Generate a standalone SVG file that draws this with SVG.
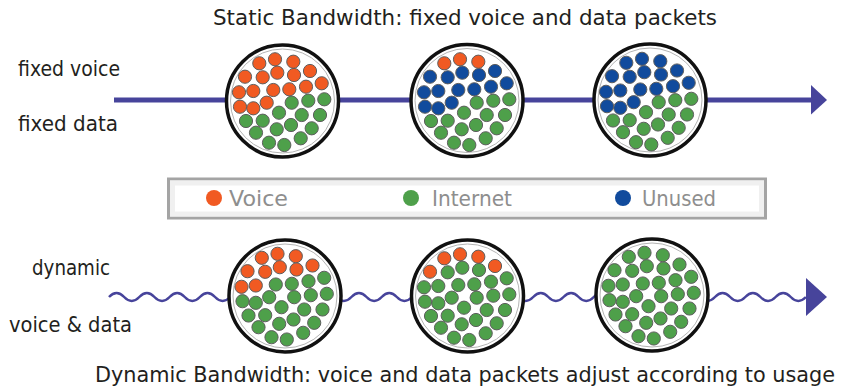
<svg xmlns="http://www.w3.org/2000/svg" xmlns:xlink="http://www.w3.org/1999/xlink" width="845" height="389" viewBox="0 0 845 389">
<style>
.t{font-family:"DejaVu Sans","Liberation Sans",sans-serif;fill:#231f20}
.lt{font-family:"DejaVu Sans","Liberation Sans",sans-serif;fill:#8e8e8e;font-size:21px}
.o{fill:#f15a22}.g{fill:#4ea04a}.b{fill:#114b9d}
.ring{fill:#fff;stroke:#111;stroke-width:3.5}
.inner{fill:none;stroke:#b4b4b4;stroke-width:1}
.ln{stroke:#47449b;fill:none}
</style>
<defs>
<circle id="dot" r="6.6" stroke="#5e5e5e" stroke-width="1"/>
</defs>
<rect width="845" height="389" fill="#fff"/>
<text class="t" x="213" y="25" font-size="20.5" textLength="504" lengthAdjust="spacingAndGlyphs">Static Bandwidth: fixed voice and data packets</text>
<text class="t" x="95" y="382" font-size="20.5" textLength="740" lengthAdjust="spacingAndGlyphs">Dynamic Bandwidth: voice and data packets adjust according to usage</text>
<text class="t" x="18" y="76" font-size="21" textLength="102" lengthAdjust="spacingAndGlyphs">fixed voice</text>
<text class="t" x="18" y="131" font-size="21" textLength="100" lengthAdjust="spacingAndGlyphs">fixed data</text>
<text class="t" x="32" y="275" font-size="21" textLength="78" lengthAdjust="spacingAndGlyphs">dynamic</text>
<text class="t" x="9" y="332" font-size="21" textLength="123" lengthAdjust="spacingAndGlyphs">voice &amp; data</text>
<g id="connectors">
<line class="ln" x1="114" y1="100" x2="812" y2="100" stroke-width="5"/>
<polygon points="811,85 811,114.5 827,100" fill="#47449b"/>
<path class="ln" stroke-width="2.5" d="M109,297 q7.575,-8 15.15,0 t15.15,0 t15.15,0 t15.15,0 t15.15,0 t15.15,0 t15.15,0 t15.15,0 t15.15,0 t15.15,0 t15.15,0 t15.15,0 t15.15,0 t15.15,0 t15.15,0 t15.15,0 t15.15,0 t15.15,0 t15.15,0 t15.15,0 t15.15,0 t15.15,0 t15.15,0 t15.15,0 t15.15,0 t15.15,0 t15.15,0 t15.15,0 t15.15,0 t15.15,0 t15.15,0 t15.15,0 t15.15,0 t15.15,0 t15.15,0 t15.15,0 t15.15,0 t15.15,0 t15.15,0 t15.15,0 t15.15,0 t15.15,0 t15.15,0 t15.15,0 t15.15,0 t15.15,0"/>
<polygon points="806,278 806,316 827,297" fill="#47449b"/>
</g>
<g id="legend">
<rect x="168.5" y="179" width="597" height="39" fill="#fff" stroke="#a4a4a4" stroke-width="3"/>
<rect x="172.5" y="183" width="589" height="31" fill="none" stroke="#f0f0f0" stroke-width="5"/>
<ellipse cx="214" cy="198" rx="8" ry="8" class="o"/>
<text class="lt" x="229" y="206" textLength="59" lengthAdjust="spacingAndGlyphs">Voice</text>
<ellipse cx="411" cy="198" rx="8" ry="8" class="g"/>
<text class="lt" x="432" y="206" textLength="80" lengthAdjust="spacingAndGlyphs">Internet</text>
<ellipse cx="623" cy="198" rx="8" ry="8" class="b"/>
<text class="lt" x="642" y="206" textLength="74" lengthAdjust="spacingAndGlyphs">Unused</text>
</g>
<g id="cable1">
<circle class="ring" cx="282.5" cy="101" r="56"/><circle class="inner" cx="282.5" cy="101" r="52"/>
<g transform="translate(282,100)">
<use href="#dot" class="o" x="-22.7" y="-36.7"/><use href="#dot" class="o" x="-7" y="-40.7"/><use href="#dot" class="o" x="11.3" y="-38.3"/>
<use href="#dot" class="o" x="-37" y="-23.3"/><use href="#dot" class="o" x="-19.3" y="-22.7"/><use href="#dot" class="o" x="-4.7" y="-27.3"/><use href="#dot" class="o" x="12" y="-25"/><use href="#dot" class="o" x="28" y="-29"/>
<use href="#dot" class="o" x="-43" y="-7.7"/><use href="#dot" class="o" x="-28.7" y="-9"/><use href="#dot" class="o" x="-8.7" y="-10"/><use href="#dot" class="o" x="7.3" y="-10.7"/><use href="#dot" class="o" x="24" y="-13.3"/><use href="#dot" class="o" x="39.7" y="-16.7"/>
<use href="#dot" class="o" x="-42" y="6.7"/><use href="#dot" class="o" x="-28.7" y="8.3"/><use href="#dot" class="o" x="-15.3" y="2.7"/><use href="#dot" class="g" x="9.7" y="2.7"/><use href="#dot" class="g" x="26.3" y="0.7"/><use href="#dot" class="g" x="42.3" y="-0.7"/>
<use href="#dot" class="g" x="-36" y="21"/><use href="#dot" class="g" x="-19.3" y="20.7"/><use href="#dot" class="g" x="-3" y="12.7"/><use href="#dot" class="g" x="19.7" y="15"/><use href="#dot" class="g" x="38" y="15"/>
<use href="#dot" class="g" x="-26" y="32.7"/><use href="#dot" class="g" x="-5.3" y="29.3"/><use href="#dot" class="g" x="9" y="25"/><use href="#dot" class="g" x="29.7" y="28.3"/>
<use href="#dot" class="g" x="-13" y="42.7"/><use href="#dot" class="g" x="2.3" y="45"/><use href="#dot" class="g" x="18.7" y="38.3"/>
</g>
</g>
<g id="cable2">
<circle class="ring" cx="467" cy="100.5" r="56"/><circle class="inner" cx="467" cy="100.5" r="52"/>
<g transform="translate(467,100)">
<use href="#dot" class="o" x="-22.7" y="-36.7"/><use href="#dot" class="o" x="-7" y="-40.7"/><use href="#dot" class="o" x="11.3" y="-38.3"/>
<use href="#dot" class="b" x="-37" y="-23.3"/><use href="#dot" class="b" x="-19.3" y="-22.7"/><use href="#dot" class="b" x="-4.7" y="-27.3"/><use href="#dot" class="b" x="12" y="-25"/><use href="#dot" class="b" x="28" y="-29"/>
<use href="#dot" class="b" x="-43" y="-7.7"/><use href="#dot" class="b" x="-28.7" y="-9"/><use href="#dot" class="b" x="-8.7" y="-10"/><use href="#dot" class="b" x="7.3" y="-10.7"/><use href="#dot" class="b" x="24" y="-13.3"/><use href="#dot" class="b" x="39.7" y="-16.7"/>
<use href="#dot" class="b" x="-42" y="6.7"/><use href="#dot" class="b" x="-28.7" y="8.3"/><use href="#dot" class="b" x="-15.3" y="2.7"/><use href="#dot" class="g" x="9.7" y="2.7"/><use href="#dot" class="g" x="26.3" y="0.7"/><use href="#dot" class="g" x="42.3" y="-0.7"/>
<use href="#dot" class="g" x="-36" y="21"/><use href="#dot" class="g" x="-19.3" y="20.7"/><use href="#dot" class="g" x="-3" y="12.7"/><use href="#dot" class="g" x="19.7" y="15"/><use href="#dot" class="g" x="38" y="15"/>
<use href="#dot" class="g" x="-26" y="32.7"/><use href="#dot" class="g" x="-5.3" y="29.3"/><use href="#dot" class="g" x="9" y="25"/><use href="#dot" class="g" x="29.7" y="28.3"/>
<use href="#dot" class="g" x="-13" y="42.7"/><use href="#dot" class="g" x="2.3" y="45"/><use href="#dot" class="g" x="18.7" y="38.3"/>
</g>
</g>
<g id="cable3">
<circle class="ring" cx="650" cy="100" r="56"/><circle class="inner" cx="650" cy="100" r="52"/>
<g transform="translate(649,99.5)">
<use href="#dot" class="b" x="-22.7" y="-36.7"/><use href="#dot" class="b" x="-7" y="-40.7"/><use href="#dot" class="b" x="11.3" y="-38.3"/>
<use href="#dot" class="b" x="-37" y="-23.3"/><use href="#dot" class="b" x="-19.3" y="-22.7"/><use href="#dot" class="b" x="-4.7" y="-27.3"/><use href="#dot" class="b" x="12" y="-25"/><use href="#dot" class="b" x="28" y="-29"/>
<use href="#dot" class="b" x="-43" y="-7.7"/><use href="#dot" class="b" x="-28.7" y="-9"/><use href="#dot" class="b" x="-8.7" y="-10"/><use href="#dot" class="b" x="7.3" y="-10.7"/><use href="#dot" class="b" x="24" y="-13.3"/><use href="#dot" class="b" x="39.7" y="-16.7"/>
<use href="#dot" class="b" x="-42" y="6.7"/><use href="#dot" class="b" x="-28.7" y="8.3"/><use href="#dot" class="b" x="-15.3" y="2.7"/><use href="#dot" class="g" x="9.7" y="2.7"/><use href="#dot" class="g" x="26.3" y="0.7"/><use href="#dot" class="g" x="42.3" y="-0.7"/>
<use href="#dot" class="g" x="-36" y="21"/><use href="#dot" class="g" x="-19.3" y="20.7"/><use href="#dot" class="g" x="-3" y="12.7"/><use href="#dot" class="g" x="19.7" y="15"/><use href="#dot" class="g" x="38" y="15"/>
<use href="#dot" class="g" x="-26" y="32.7"/><use href="#dot" class="g" x="-5.3" y="29.3"/><use href="#dot" class="g" x="9" y="25"/><use href="#dot" class="g" x="29.7" y="28.3"/>
<use href="#dot" class="g" x="-13" y="42.7"/><use href="#dot" class="g" x="2.3" y="45"/><use href="#dot" class="g" x="18.7" y="38.3"/>
</g>
</g>
<g id="cable4">
<circle class="ring" cx="285" cy="296" r="56"/><circle class="inner" cx="285" cy="296" r="52"/>
<g transform="translate(284.5,294.5)">
<use href="#dot" class="o" x="-22.7" y="-36.7"/><use href="#dot" class="o" x="-7" y="-40.7"/><use href="#dot" class="o" x="11.3" y="-38.3"/>
<use href="#dot" class="o" x="-37" y="-23.3"/><use href="#dot" class="o" x="-19.3" y="-22.7"/><use href="#dot" class="o" x="-4.7" y="-27.3"/><use href="#dot" class="o" x="12" y="-25"/><use href="#dot" class="o" x="28" y="-29"/>
<use href="#dot" class="o" x="-43" y="-7.7"/><use href="#dot" class="o" x="-28.7" y="-9"/><use href="#dot" class="g" x="-8.7" y="-10"/><use href="#dot" class="g" x="7.3" y="-10.7"/><use href="#dot" class="g" x="24" y="-13.3"/><use href="#dot" class="g" x="39.7" y="-16.7"/>
<use href="#dot" class="g" x="-42" y="6.7"/><use href="#dot" class="g" x="-28.7" y="8.3"/><use href="#dot" class="g" x="-15.3" y="2.7"/><use href="#dot" class="g" x="9.7" y="2.7"/><use href="#dot" class="g" x="26.3" y="0.7"/><use href="#dot" class="g" x="42.3" y="-0.7"/>
<use href="#dot" class="g" x="-36" y="21"/><use href="#dot" class="g" x="-19.3" y="20.7"/><use href="#dot" class="g" x="-3" y="12.7"/><use href="#dot" class="g" x="19.7" y="15"/><use href="#dot" class="g" x="38" y="15"/>
<use href="#dot" class="g" x="-26" y="32.7"/><use href="#dot" class="g" x="-5.3" y="29.3"/><use href="#dot" class="g" x="9" y="25"/><use href="#dot" class="g" x="29.7" y="28.3"/>
<use href="#dot" class="g" x="-13" y="42.7"/><use href="#dot" class="g" x="2.3" y="45"/><use href="#dot" class="g" x="18.7" y="38.3"/>
</g>
</g>
<g id="cable5">
<circle class="ring" cx="467.5" cy="296" r="56"/><circle class="inner" cx="467.5" cy="296" r="52"/>
<g transform="translate(467,295)">
<use href="#dot" class="o" x="-22.7" y="-36.7"/><use href="#dot" class="o" x="-7" y="-40.7"/><use href="#dot" class="o" x="11.3" y="-38.3"/>
<use href="#dot" class="o" x="-37" y="-23.3"/><use href="#dot" class="g" x="-19.3" y="-22.7"/><use href="#dot" class="g" x="-4.7" y="-27.3"/><use href="#dot" class="g" x="12" y="-25"/><use href="#dot" class="o" x="28" y="-29"/>
<use href="#dot" class="g" x="-43" y="-7.7"/><use href="#dot" class="g" x="-28.7" y="-9"/><use href="#dot" class="g" x="-8.7" y="-10"/><use href="#dot" class="g" x="7.3" y="-10.7"/><use href="#dot" class="g" x="24" y="-13.3"/><use href="#dot" class="g" x="39.7" y="-16.7"/>
<use href="#dot" class="g" x="-42" y="6.7"/><use href="#dot" class="g" x="-28.7" y="8.3"/><use href="#dot" class="g" x="-15.3" y="2.7"/><use href="#dot" class="g" x="9.7" y="2.7"/><use href="#dot" class="g" x="26.3" y="0.7"/><use href="#dot" class="g" x="42.3" y="-0.7"/>
<use href="#dot" class="g" x="-36" y="21"/><use href="#dot" class="g" x="-19.3" y="20.7"/><use href="#dot" class="g" x="-3" y="12.7"/><use href="#dot" class="g" x="19.7" y="15"/><use href="#dot" class="g" x="38" y="15"/>
<use href="#dot" class="g" x="-26" y="32.7"/><use href="#dot" class="g" x="-5.3" y="29.3"/><use href="#dot" class="g" x="9" y="25"/><use href="#dot" class="g" x="29.7" y="28.3"/>
<use href="#dot" class="g" x="-13" y="42.7"/><use href="#dot" class="g" x="2.3" y="45"/><use href="#dot" class="g" x="18.7" y="38.3"/>
</g>
</g>
<g id="cable6">
<circle class="ring" cx="652" cy="295" r="56"/><circle class="inner" cx="652" cy="295" r="52"/>
<g transform="translate(651.5,293.5)">
<use href="#dot" class="g" x="-22.7" y="-36.7"/><use href="#dot" class="g" x="-7" y="-40.7"/><use href="#dot" class="g" x="11.3" y="-38.3"/>
<use href="#dot" class="g" x="-37" y="-23.3"/><use href="#dot" class="g" x="-19.3" y="-22.7"/><use href="#dot" class="g" x="-4.7" y="-27.3"/><use href="#dot" class="g" x="12" y="-25"/><use href="#dot" class="g" x="28" y="-29"/>
<use href="#dot" class="g" x="-43" y="-7.7"/><use href="#dot" class="g" x="-28.7" y="-9"/><use href="#dot" class="g" x="-8.7" y="-10"/><use href="#dot" class="g" x="7.3" y="-10.7"/><use href="#dot" class="g" x="24" y="-13.3"/><use href="#dot" class="g" x="39.7" y="-16.7"/>
<use href="#dot" class="g" x="-42" y="6.7"/><use href="#dot" class="g" x="-28.7" y="8.3"/><use href="#dot" class="g" x="-15.3" y="2.7"/><use href="#dot" class="g" x="9.7" y="2.7"/><use href="#dot" class="g" x="26.3" y="0.7"/><use href="#dot" class="g" x="42.3" y="-0.7"/>
<use href="#dot" class="g" x="-36" y="21"/><use href="#dot" class="g" x="-19.3" y="20.7"/><use href="#dot" class="g" x="-3" y="12.7"/><use href="#dot" class="g" x="19.7" y="15"/><use href="#dot" class="g" x="38" y="15"/>
<use href="#dot" class="g" x="-26" y="32.7"/><use href="#dot" class="g" x="-5.3" y="29.3"/><use href="#dot" class="g" x="9" y="25"/><use href="#dot" class="g" x="29.7" y="28.3"/>
<use href="#dot" class="g" x="-13" y="42.7"/><use href="#dot" class="g" x="2.3" y="45"/><use href="#dot" class="g" x="18.7" y="38.3"/>
</g>
</g>
</svg>
